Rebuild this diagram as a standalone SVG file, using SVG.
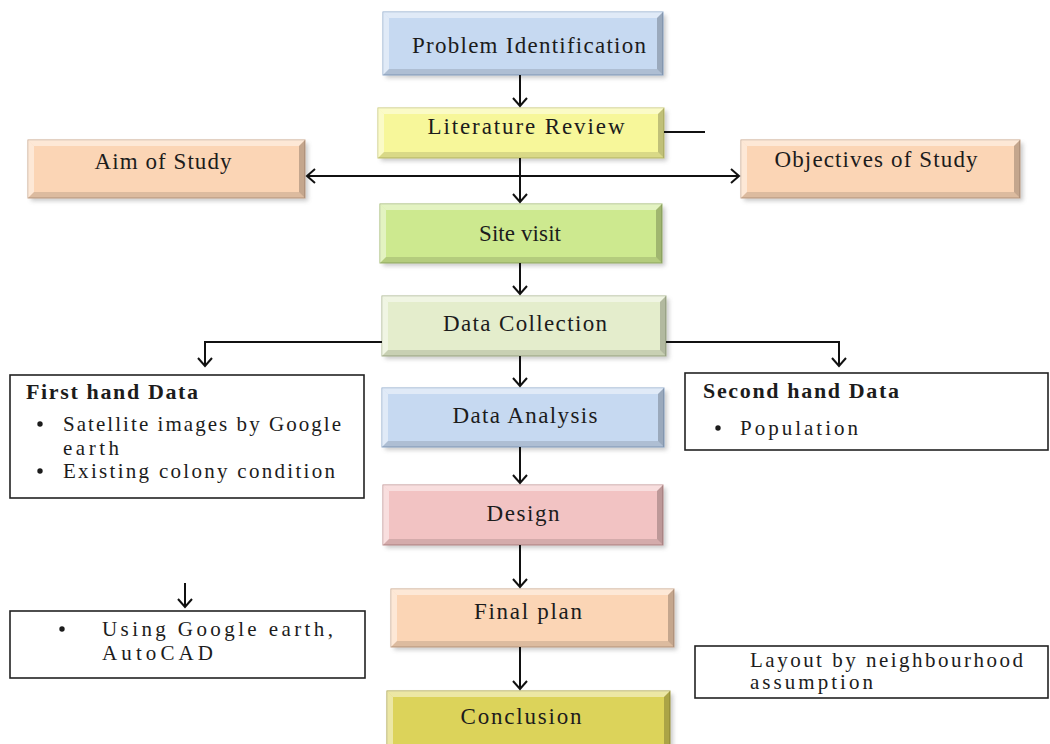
<svg xmlns="http://www.w3.org/2000/svg" width="1050" height="744" viewBox="0 0 1050 744">
<style>
  .lbl{font-family:"Liberation Serif","Times New Roman",serif;font-size:23px;fill:#1c1c1c;text-anchor:middle}
  .txt{font-family:"Liberation Serif","Times New Roman",serif;font-size:21px;fill:#1c1c1c}
  .hd{font-family:"Liberation Serif","Times New Roman",serif;font-size:22px;font-weight:bold;fill:#1c1c1c}
  .shadow{fill:#8a8a8a;opacity:.45}
  .hl{fill:#ffffff;opacity:.45}
  .dk{fill:#000000;opacity:.22}
  .dk2{fill:#000000;opacity:.12}
  .tb{fill:#ffffff;stroke:#222;stroke-width:1.6}
  .con{fill:none;stroke:#111;stroke-width:2}
</style>
<defs>
  <filter id="blur" x="-10%" y="-10%" width="120%" height="130%"><feGaussianBlur stdDeviation="2"/></filter>
  <marker id="ah" markerUnits="userSpaceOnUse" markerWidth="20" markerHeight="20" refX="10" refY="10" orient="auto-start-reverse" viewBox="0 0 20 20">
    <path d="M2,3 L10,10 L2,17" fill="none" stroke="#111" stroke-width="2"/>
  </marker>
</defs>
<rect width="1050" height="744" fill="#ffffff"/>

<g id="problem-identification">
  <rect class="shadow" x="386" y="15" width="280" height="63" filter="url(#blur)"/>
  <rect x="383" y="12" width="280" height="63" fill="#c6d9f1" stroke="#8ea9cc" stroke-width="1"/>
  <path class="hl" d="M383,12 H663 L657,18 H389 Z"/><path class="hl" d="M383,12 L389,18 V69 L383,75 Z"/>
  <path class="dk" d="M663,12 V75 L657,69 V18 Z"/><path class="dk2" d="M383,75 H663 L657,69 H389 Z"/>
  <text class="lbl" x="529" y="53" textLength="234" lengthAdjust="spacing">Problem Identification</text>
</g>

<g id="literature-review">
  <rect class="shadow" x="381" y="111" width="286" height="50" filter="url(#blur)"/>
  <rect x="378" y="108" width="286" height="50" fill="#f7f79a" stroke="#c8c870" stroke-width="1"/>
  <path class="hl" d="M378,108 H664 L658,114 H384 Z"/><path class="hl" d="M378,108 L384,114 V152 L378,158 Z"/>
  <path class="dk" d="M664,108 V158 L658,152 V114 Z"/><path class="dk2" d="M378,158 H664 L658,152 H384 Z"/>
  <text class="lbl" x="526" y="134" textLength="197" lengthAdjust="spacing">Literature Review</text>
</g>

<g id="aim-of-study">
  <rect class="shadow" x="31" y="143" width="277" height="58" filter="url(#blur)"/>
  <rect x="28" y="140" width="277" height="58" fill="#fbd5b5" stroke="#c9a58a" stroke-width="1"/>
  <path class="hl" d="M28,140 H305 L299,146 H34 Z"/><path class="hl" d="M28,140 L34,146 V192 L28,198 Z"/>
  <path class="dk" d="M305,140 V198 L299,192 V146 Z"/><path class="dk2" d="M28,198 H305 L299,192 H34 Z"/>
  <text class="lbl" x="163" y="169" textLength="137" lengthAdjust="spacing">Aim  of Study</text>
</g>

<g id="objectives-of-study">
  <rect class="shadow" x="744" y="143" width="279" height="58" filter="url(#blur)"/>
  <rect x="741" y="140" width="279" height="58" fill="#fbd5b5" stroke="#c9a58a" stroke-width="1"/>
  <path class="hl" d="M741,140 H1020 L1014,146 H747 Z"/><path class="hl" d="M741,140 L747,146 V192 L741,198 Z"/>
  <path class="dk" d="M1020,140 V198 L1014,192 V146 Z"/><path class="dk2" d="M741,198 H1020 L1014,192 H747 Z"/>
  <text class="lbl" x="876" y="167" textLength="203" lengthAdjust="spacing">Objectives of Study</text>
</g>

<g id="site-visit">
  <rect class="shadow" x="383" y="207" width="282" height="59" filter="url(#blur)"/>
  <rect x="380" y="204" width="282" height="59" fill="#cde98f" stroke="#9db86a" stroke-width="1"/>
  <path class="hl" d="M380,204 H662 L656,210 H386 Z"/><path class="hl" d="M380,204 L386,210 V257 L380,263 Z"/>
  <path class="dk" d="M662,204 V263 L656,257 V210 Z"/><path class="dk2" d="M380,263 H662 L656,257 H386 Z"/>
  <text class="lbl" x="520" y="241" font-size="20" textLength="82" lengthAdjust="spacing">Site visit</text>
</g>

<g id="data-collection">
  <rect class="shadow" x="385" y="299" width="284" height="60" filter="url(#blur)"/>
  <rect x="382" y="296" width="284" height="60" fill="#e4edcc" stroke="#a9b58e" stroke-width="1"/>
  <path class="hl" d="M382,296 H666 L660,302 H388 Z"/><path class="hl" d="M382,296 L388,302 V350 L382,356 Z"/>
  <path class="dk" d="M666,296 V356 L660,350 V302 Z"/><path class="dk2" d="M382,356 H666 L660,350 H388 Z"/>
  <text class="lbl" x="525" y="331" textLength="164" lengthAdjust="spacing">Data Collection</text>
</g>

<g id="data-analysis">
  <rect class="shadow" x="385" y="391" width="282" height="59" filter="url(#blur)"/>
  <rect x="382" y="388" width="282" height="59" fill="#c6d9f1" stroke="#8ea9cc" stroke-width="1"/>
  <path class="hl" d="M382,388 H664 L658,394 H388 Z"/><path class="hl" d="M382,388 L388,394 V441 L382,447 Z"/>
  <path class="dk" d="M664,388 V447 L658,441 V394 Z"/><path class="dk2" d="M382,447 H664 L658,441 H388 Z"/>
  <text class="lbl" x="525" y="423" textLength="145" lengthAdjust="spacing">Data Analysis</text>
</g>

<g id="design">
  <rect class="shadow" x="386" y="488" width="280" height="60" filter="url(#blur)"/>
  <rect x="383" y="485" width="280" height="60" fill="#f2c3c3" stroke="#c08f8f" stroke-width="1"/>
  <path class="hl" d="M383,485 H663 L657,491 H389 Z"/><path class="hl" d="M383,485 L389,491 V539 L383,545 Z"/>
  <path class="dk" d="M663,485 V545 L657,539 V491 Z"/><path class="dk2" d="M383,545 H663 L657,539 H389 Z"/>
  <text class="lbl" x="523" y="521" textLength="73" lengthAdjust="spacing">Design</text>
</g>

<g id="final-plan">
  <rect class="shadow" x="394" y="592" width="283" height="58" filter="url(#blur)"/>
  <rect x="391" y="589" width="283" height="58" fill="#fbd5b5" stroke="#c9a58a" stroke-width="1"/>
  <path class="hl" d="M391,589 H674 L668,595 H397 Z"/><path class="hl" d="M391,589 L397,595 V641 L391,647 Z"/>
  <path class="dk" d="M674,589 V647 L668,641 V595 Z"/><path class="dk2" d="M391,647 H674 L668,641 H397 Z"/>
  <text class="lbl" x="528" y="619" textLength="108" lengthAdjust="spacing">Final plan</text>
</g>

<g id="conclusion">
  <rect class="shadow" x="390" y="694" width="283" height="60" filter="url(#blur)"/>
  <rect x="387" y="691" width="283" height="60" fill="#dcd35a" stroke="#a8a040" stroke-width="1"/>
  <path class="hl" d="M387,691 H670 L664,697 H393 Z"/><path class="hl" d="M387,691 L393,697 V745 L387,751 Z"/>
  <path class="dk" d="M670,691 V751 L664,745 V697 Z"/>
  <text class="lbl" x="521" y="724" textLength="121" lengthAdjust="spacing">Conclusion</text>
</g>

<g id="first-hand-data">
  <rect class="tb" x="10" y="375" width="354" height="123"/>
  <text class="hd" x="26" y="399" textLength="172" lengthAdjust="spacing">First hand Data</text>
  <circle cx="40" cy="424" r="2.7" fill="#1c1c1c"/>
  <text class="txt" x="63" y="431" textLength="278" lengthAdjust="spacing">Satellite images by Google</text>
  <text class="txt" x="63" y="455" textLength="56" lengthAdjust="spacing">earth</text>
  <circle cx="40" cy="471" r="2.7" fill="#1c1c1c"/>
  <text class="txt" x="63" y="478" textLength="272" lengthAdjust="spacing">Existing colony condition</text>
</g>

<g id="second-hand-data">
  <rect class="tb" x="685" y="373" width="363" height="77"/>
  <text class="hd" x="703" y="398" textLength="196" lengthAdjust="spacing">Second hand Data</text>
  <circle cx="718" cy="428" r="2.7" fill="#1c1c1c"/>
  <text class="txt" x="740" y="435" textLength="118" lengthAdjust="spacing">Population</text>
</g>

<g id="tools-box">
  <rect class="tb" x="10" y="611" width="355" height="67"/>
  <circle cx="62" cy="629" r="2.7" fill="#1c1c1c"/>
  <text class="txt" x="102" y="636" textLength="231" lengthAdjust="spacing">Using Google earth,</text>
  <text class="txt" x="102" y="660" textLength="111" lengthAdjust="spacing">AutoCAD</text>
</g>

<g id="layout-box">
  <rect class="tb" x="695" y="646" width="353" height="52"/>
  <text class="txt" x="750" y="667" font-size="19" textLength="273" lengthAdjust="spacing">Layout by neighbourhood</text>
  <text class="txt" x="750" y="689" font-size="19" textLength="123" lengthAdjust="spacing">assumption</text>
</g>

<g id="connectors">
  <line class="con" x1="520" y1="75" x2="520" y2="106" marker-end="url(#ah)"/>
  <line class="con" x1="520" y1="158" x2="520" y2="202" marker-end="url(#ah)"/>
  <line class="con" x1="307" y1="176" x2="739" y2="176" marker-start="url(#ah)" marker-end="url(#ah)"/>
  <line class="con" x1="664" y1="132" x2="705" y2="132"/>
  <line class="con" x1="520" y1="263" x2="520" y2="294" marker-end="url(#ah)"/>
  <polyline class="con" points="382,342 205,342 205,366" marker-end="url(#ah)"/>
  <polyline class="con" points="666,342 839,342 839,366" marker-end="url(#ah)"/>
  <line class="con" x1="520" y1="356" x2="520" y2="386" marker-end="url(#ah)"/>
  <line class="con" x1="520" y1="447" x2="520" y2="483" marker-end="url(#ah)"/>
  <line class="con" x1="520" y1="545" x2="520" y2="587" marker-end="url(#ah)"/>
  <line class="con" x1="520" y1="647" x2="520" y2="689" marker-end="url(#ah)"/>
  <line class="con" x1="185" y1="583" x2="185" y2="607" marker-end="url(#ah)"/>
</g>
</svg>
